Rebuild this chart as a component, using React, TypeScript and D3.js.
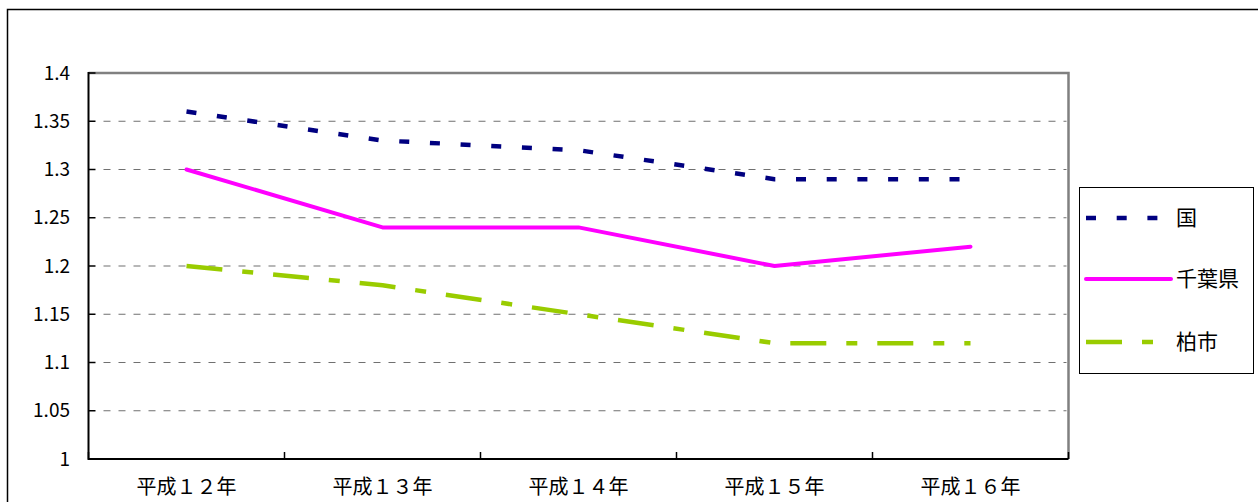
import React, { useEffect, useRef } from 'react'
import * as d3 from 'd3'

const categories = ['平成１２年', '平成１３年', '平成１４年', '平成１５年', '平成１６年']
const kuni = [1.36, 1.33, 1.32, 1.29, 1.29]
const chiba = [1.3, 1.24, 1.24, 1.2, 1.22]
const kashiwa = [1.2, 1.18, 1.15, 1.12, 1.12]
const yTicks = [1, 1.05, 1.1, 1.15, 1.2, 1.25, 1.3, 1.35, 1.4]
const yTickLabels = ['1', '1.05', '1.1', '1.15', '1.2', '1.25', '1.3', '1.35', '1.4']

const seriesList = [
  { name: '国', values: kuni, color: '#000080', width: 4.5, dash: '10,20.7', cap: 'butt' },
  { name: '千葉県', values: chiba, color: '#FF00FF', width: 4, dash: null, cap: 'round' },
  { name: '柏市', values: kashiwa, color: '#99CC00', width: 4.5, dash: '36,20,11,20', cap: 'butt' },
]

const FONT = "'Noto Sans CJK JP', 'Liberation Sans', sans-serif"

const App = () => {
  const svgRef = useRef<SVGSVGElement>(null)

  useEffect(() => {
    const svg = d3.select(svgRef.current)
    svg.selectAll('*').remove()
    const width = 1258
    const height = 502
    const plot = { left: 88.5, right: 1068.5, top: 73, bottom: 459 }

    svg.attr('width', width).attr('height', height).style('background', '#fff')

    // outer chart border (runs off the right/bottom of the picture)
    svg
      .append('rect')
      .attr('x', 7.5)
      .attr('y', 9.5)
      .attr('width', 1400)
      .attr('height', 700)
      .attr('fill', 'none')
      .attr('stroke', '#000')
      .attr('stroke-width', 1.5)

    const x = d3.scaleBand<string>().domain(categories).range([plot.left, plot.right]).padding(0)
    const y = d3.scaleLinear().domain([1, 1.4]).range([plot.bottom, plot.top])
    const cx = (c: string) => (x(c) ?? 0) + x.bandwidth() / 2

    // grid
    svg
      .append('g')
      .selectAll('line')
      .data(yTicks.filter((t) => t > 1 && t < 1.4))
      .enter()
      .append('line')
      .attr('x1', plot.left + 15)
      .attr('x2', plot.right - 2)
      .attr('y1', (d) => y(d))
      .attr('y2', (d) => y(d))
      .attr('stroke', '#707070')
      .attr('stroke-width', 1.2)
      .attr('stroke-dasharray', '7,8')

    // top + right border of plot area
    svg
      .append('path')
      .attr('d', `M${plot.left},${plot.top}H${plot.right}V${plot.bottom}`)
      .attr('fill', 'none')
      .attr('stroke', '#808080')
      .attr('stroke-width', 2.5)

    // y axis
    const yAxis = svg.append('g')
    yAxis
      .append('line')
      .attr('x1', plot.left)
      .attr('x2', plot.left)
      .attr('y1', plot.top - 1)
      .attr('y2', plot.bottom + 1)
      .attr('stroke', '#000')
      .attr('stroke-width', 2)
    yAxis
      .selectAll('line.tick')
      .data(yTicks)
      .enter()
      .append('line')
      .attr('class', 'tick')
      .attr('x1', plot.left)
      .attr('x2', plot.left + 7)
      .attr('y1', (d) => y(d))
      .attr('y2', (d) => y(d))
      .attr('stroke', '#000')
      .attr('stroke-width', 1.5)
    yAxis
      .selectAll('text')
      .data(yTicks)
      .enter()
      .append('text')
      .attr('x', 70)
      .attr('y', (d) => y(d))
      .attr('dy', '0.35em')
      .attr('text-anchor', 'end')
      .style('font-family', FONT)
      .style('font-size', '19px')
      .text((d, i) => yTickLabels[i])

    // x axis
    const xAxis = svg.append('g')
    xAxis
      .append('line')
      .attr('x1', plot.left)
      .attr('x2', plot.right)
      .attr('y1', plot.bottom)
      .attr('y2', plot.bottom)
      .attr('stroke', '#000')
      .attr('stroke-width', 2)
    const bounds = categories.map((c) => x(c) ?? 0).concat([plot.right])
    xAxis
      .selectAll('line.tick')
      .data(bounds)
      .enter()
      .append('line')
      .attr('class', 'tick')
      .attr('x1', (d) => d)
      .attr('x2', (d) => d)
      .attr('y1', plot.bottom)
      .attr('y2', plot.bottom - 7)
      .attr('stroke', '#000')
      .attr('stroke-width', 1.5)
    xAxis
      .selectAll('text')
      .data(categories)
      .enter()
      .append('text')
      .attr('x', (d) => cx(d))
      .attr('y', 494)
      .attr('text-anchor', 'middle')
      .style('font-family', FONT)
      .style('font-size', '20px')
      .text((d) => d)

    // series lines
    const line = d3
      .line<number>()
      .x((d, i) => cx(categories[i]))
      .y((d) => y(d))

    seriesList.forEach((s) => {
      svg
        .append('path')
        .datum(s.values)
        .attr('d', line)
        .attr('fill', 'none')
        .attr('stroke', s.color)
        .attr('stroke-width', s.width)
        .attr('stroke-linecap', s.cap)
        .attr('stroke-linejoin', 'round')
        .attr('stroke-dasharray', s.dash ?? null)
    })

    // legend
    const legend = svg.append('g')
    legend
      .append('rect')
      .attr('x', 1079.5)
      .attr('y', 187.5)
      .attr('width', 174)
      .attr('height', 186)
      .attr('fill', '#fff')
      .attr('stroke', '#000')
      .attr('stroke-width', 1)
    const rowY = [218, 279, 342]
    seriesList.forEach((s, i) => {
      legend
        .append('line')
        .attr('x1', 1086)
        .attr('x2', 1171)
        .attr('y1', rowY[i])
        .attr('y2', rowY[i])
        .attr('stroke', s.color)
        .attr('stroke-width', s.width)
        .attr('stroke-linecap', s.cap)
        .attr('stroke-dasharray', s.dash ?? null)
      legend
        .append('text')
        .attr('x', 1176)
        .attr('y', rowY[i])
        .attr('dy', '0.35em')
        .style('font-family', FONT)
        .style('font-size', '21px')
        .text(s.name)
    })
  }, [])

  return <svg ref={svgRef} style={{ position: 'absolute', left: 0, top: 0 }}></svg>
}

export default App
